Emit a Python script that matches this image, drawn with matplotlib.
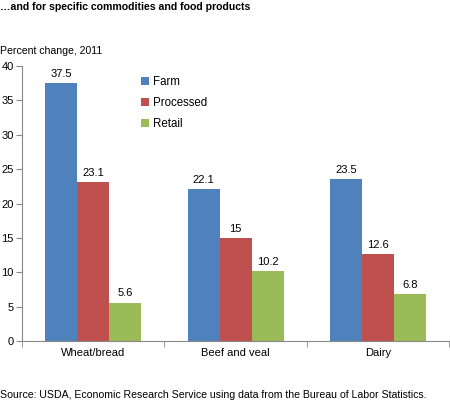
import matplotlib.pyplot as plt
import numpy as np

categories = ['Wheat/bread', 'Beef and veal', 'Dairy']
series = ['Farm', 'Processed', 'Retail']
farm = [37.5, 22.1, 23.5]
processed = [23.1, 15, 12.6]
retail = [5.6, 10.2, 6.8]
labels = [['37.5', '22.1', '23.5'], ['23.1', '15', '12.6'], ['5.6', '10.2', '6.8']]
colors = ['#4F81BD', '#C0504D', '#9BBB59']

plt.rcParams['font.family'] = ['Liberation Sans', 'DejaVu Sans']

fig = plt.figure(figsize=(4.5, 4.05), dpi=100)
ax = fig.add_axes([0.049, 0.158, 0.949, 0.679])

x = np.arange(len(categories))
w = 0.225
for i, (vals, name) in enumerate(zip([farm, processed, retail], series)):
    bars = ax.bar(x + (i - 1) * w, vals, width=w, color=colors[i], label=name)
    for b, lab in zip(bars, labels[i]):
        ax.text(b.get_x() + b.get_width() / 2, b.get_height() + 0.6, lab,
                ha='center', va='bottom', fontsize=8)

ax.set_xlim(-0.5, 2.5)
ax.set_ylim(0, 40)
ax.set_yticks(range(0, 41, 5))
ax.tick_params(axis='y', labelsize=8, length=4, direction='out', pad=2)
ax.set_xticks(x)
ax.set_xticklabels(categories, fontsize=8)
ax.set_xticks([-0.5, 0.5, 1.5, 2.5], minor=True)
ax.tick_params(axis='x', which='major', length=0, pad=5)
ax.tick_params(axis='x', which='minor', length=4, direction='out')
for s in ['top', 'right']:
    ax.spines[s].set_visible(False)
for s in ['left', 'bottom']:
    ax.spines[s].set_color('#888888')
    ax.spines[s].set_linewidth(0.8)
ax.tick_params(colors='#888888', labelcolor='black', which='both')

ax.legend(loc='upper left', bbox_to_anchor=(0.255, 1.0), frameon=False, fontsize=8.3,
          handlelength=0.7, handleheight=0.7, handletextpad=0.3, labelspacing=0.75)

fig.text(0.0, 0.995, '\u2026and for specific commodities and food products',
         fontsize=7.6, fontweight='bold', va='top', ha='left')
fig.text(0.0, 0.875, 'Percent change, 2011', fontsize=7.6, va='center', ha='left')
fig.text(0.0, 0.025, 'Source: USDA, Economic Research Service using data from the Bureau of Labor Statistics.',
         fontsize=7.6, va='center', ha='left')

plt.savefig('out.png', dpi=100)
